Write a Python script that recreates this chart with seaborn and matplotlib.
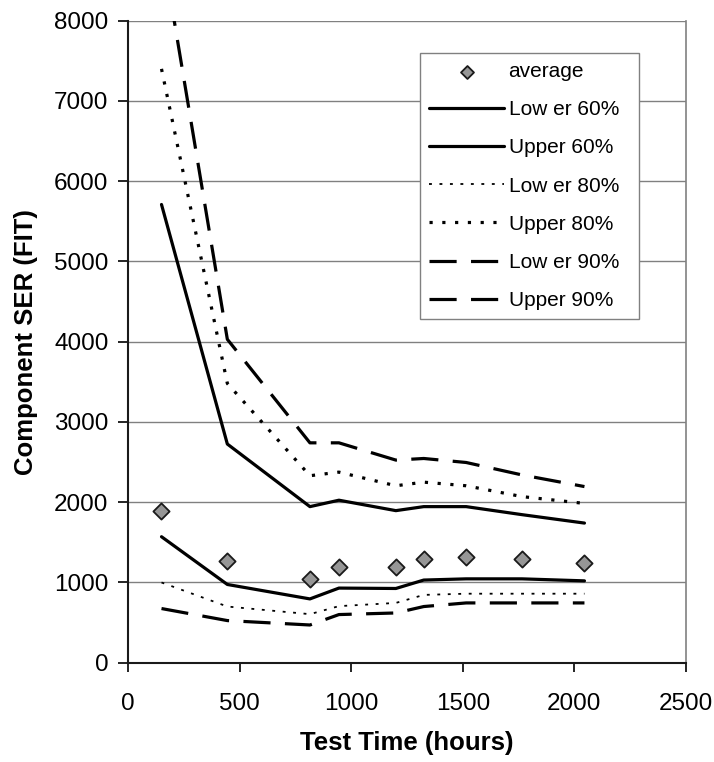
import matplotlib
matplotlib.use("Agg")
import matplotlib.pyplot as plt
import seaborn as sns
import pandas as pd

# Test time (hours) at each measurement point
test_hours = [150, 445, 815, 945, 1200, 1325, 1515, 1765, 2045]

# Component SER (FIT)
average = [1890, 1270, 1045, 1195, 1195, 1290, 1320, 1290, 1245]
lower_60 = [1570, 975, 795, 930, 925, 1030, 1045, 1045, 1020]
upper_60 = [5710, 2725, 1945, 2025, 1895, 1945, 1945, 1845, 1740]
lower_80 = [1000, 700, 605, 705, 745, 845, 860, 860, 860]
upper_80 = [7400, 3480, 2330, 2375, 2205, 2250, 2205, 2070, 1985]
lower_90 = [675, 525, 470, 600, 620, 700, 745, 745, 745]
upper_90 = [8950, 4030, 2740, 2740, 2525, 2545, 2495, 2340, 2195]

x_ticks = [0, 500, 1000, 1500, 2000, 2500]
y_ticks = [0, 1000, 2000, 3000, 4000, 5000, 6000, 7000, 8000]

sns.set_theme(style="white")
plt.rcParams["font.family"] = ["Liberation Sans", "DejaVu Sans"]
plt.rcParams["text.color"] = "black"
plt.rcParams["axes.labelcolor"] = "black"

df = pd.DataFrame({
    "hours": test_hours,
    "average": average,
    "Low er 60%": lower_60,
    "Upper 60%": upper_60,
    "Low er 80%": lower_80,
    "Upper 80%": upper_80,
    "Low er 90%": lower_90,
    "Upper 90%": upper_90,
})

fig = plt.figure(figsize=(7.14, 7.62), dpi=100)
ax = fig.add_axes([0.1793, 0.1303, 0.7815, 0.8425])

ax.set_axisbelow(True)
ax.yaxis.grid(True, color="#808080", linewidth=1.0)
ax.xaxis.grid(False)

sns.scatterplot(data=df, x="hours", y="average", ax=ax, marker="D", s=68,
                color="#969696", edgecolor="#1a1a1a", linewidth=1.3,
                label="average", zorder=5)

styles = {
    "Low er 60%": dict(linestyle="-", linewidth=2.3),
    "Upper 60%": dict(linestyle="-", linewidth=2.3),
    "Low er 80%": dict(linestyle=(0, (1.6, 4.2)), linewidth=1.3),
    "Upper 80%": dict(linestyle=(0, (1.0, 3.0)), linewidth=2.3),
    "Low er 90%": dict(linestyle=(0, (8.5, 4.5)), linewidth=2.3),
    "Upper 90%": dict(linestyle=(0, (8.5, 4.5)), linewidth=2.3),
}
for name, st in styles.items():
    sns.lineplot(data=df, x="hours", y=name, ax=ax, color="black",
                 label=name, estimator=None, sort=False, **st)

ax.set_xlim(0, 2500)
ax.set_ylim(0, 8000)
ax.set_xticks(x_ticks)
ax.set_yticks(y_ticks)
ax.tick_params(axis="both", labelsize=17.5, colors="black", direction="out",
               width=1.2, bottom=True, left=True)
ax.tick_params(axis="x", length=6.5, pad=15)
ax.tick_params(axis="y", length=7, pad=7)

ax.set_xlabel("Test Time (hours)", fontsize=18.5, fontweight="bold", labelpad=12)
ax.set_ylabel("Component SER (FIT)", fontsize=18.5, fontweight="bold", labelpad=12)

for side in ["left", "bottom"]:
    ax.spines[side].set_color("#1a1a1a")
    ax.spines[side].set_linewidth(1.5)
ax.spines["right"].set_color("#808080")
ax.spines["right"].set_linewidth(1.2)
ax.spines["top"].set_visible(False)

leg = ax.legend(loc="upper left", bbox_to_anchor=(0.5233, 0.0, 0.3925, 0.9502),
                mode="expand", fontsize=15, frameon=True, fancybox=False,
                edgecolor="#808080", framealpha=1.0, handlelength=3.6,
                handletextpad=0.2, labelspacing=0.92, borderpad=0.45,
                markerscale=0.8, borderaxespad=0)
leg.get_frame().set_linewidth(1.0)
for t in leg.get_texts():
    t.set_color("black")

fig.savefig("out.png", dpi=100)
